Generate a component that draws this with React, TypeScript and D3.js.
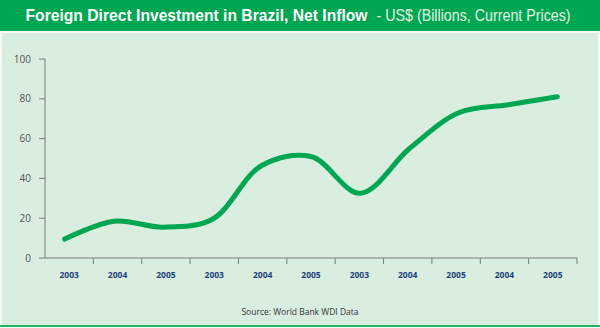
import React, { useLayoutEffect, useRef, useState } from "react";
import * as d3 from "d3";

const categories = ["2003", "2004", "2005", "2003", "2004", "2005", "2003", "2004", "2005", "2004", "2005"];
const values = [9.5, 18.5, 15.5, 19.5, 46.5, 51, 32.5, 55, 73, 77, 81];
const yTicks = [0, 20, 40, 60, 80, 100];
const titleMain = "Foreign Direct Investment in Brazil, Net Inflow";
const titleSub = "- US$ (Billions, Current Prices)";
const source = "Source: World Bank WDI Data";

export default function App() {
  const W = 600, H = 328;
  const x0 = 45, x1 = 577, yTop = 59, yBot = 258;
  const idx = categories.map((_, i) => String(i));
  const band = d3.scaleBand<string>().domain(idx).range([x0, x1]);
  const pt = d3.scalePoint<string>().domain(idx).range([x0, x1]).padding(0.4);
  const y = d3.scaleLinear().domain([0, 100]).range([yBot, yTop]);
  const line = d3.line<number>()
    .x((_, i) => pt(String(i)) as number)
    .y((d) => y(d))
    .curve(d3.curveCatmullRom.alpha(0.5));
  const bounds = [x0, ...idx.map((k) => (band(k) as number) + band.bandwidth())];
  const axisColor = "#7a7a7a";
  const tf = "'Liberation Sans', Arial, sans-serif";

  const mainRef = useRef<SVGTextElement>(null);
  const subRef = useRef<SVGTextElement>(null);
  const [sxMain, setSxMain] = useState(0.85);
  const [sxSub, setSxSub] = useState(0.85);
  useLayoutEffect(() => {
    if (mainRef.current) {
      const w = mainRef.current.getComputedTextLength();
      if (w > 0) setSxMain(342 / w);
    }
    if (subRef.current) {
      const w = subRef.current.getComputedTextLength();
      if (w > 0) setSxSub(194 / w);
    }
  }, []);

  return (
    <svg width={W} height={H} style={{ position: "absolute", left: 0, top: 0 }}>
      <rect x={0} y={0} width={W} height={H} fill="#f4faf5" />
      <rect x={2} y={33} width={W - 4} height={292} fill="#d9eedf" />
      <rect x={0} y={0} width={W} height={31} fill="#00a651" />
      <rect x={0} y={325} width={W} height={2} fill="#22b566" />
      <g transform={`translate(25.5,21) scale(${sxMain},1)`}>
        <text ref={mainRef} x={0} y={0} fontFamily={tf} fontSize={16.8} fontWeight="bold" fill="#ffffff">{titleMain}</text>
      </g>
      <g transform={`translate(376.5,21) scale(${sxSub},1)`}>
        <text ref={subRef} x={0} y={0} fontFamily={tf} fontSize={16.8} fill="#e3f4e6">{titleSub}</text>
      </g>
      <line x1={x0} x2={x0} y1={yTop} y2={yBot} stroke={axisColor} strokeWidth={1} />
      {yTicks.map((t) => (
        <g key={t}>
          <line x1={x0 - 6} x2={x0} y1={y(t)} y2={y(t)} stroke={axisColor} />
          <text x={31} y={y(t)} dy="0.35em" textAnchor="end" fontFamily="'Open Sans', sans-serif" fontSize={10} fill="#555">{t}</text>
        </g>
      ))}
      <line x1={x0} x2={x1} y1={yBot} y2={yBot} stroke={axisColor} />
      {bounds.slice(1).map((b, i) => (
        <line key={i} x1={b} x2={b} y1={yBot} y2={yBot + 6} stroke={axisColor} />
      ))}
      {categories.map((c, i) => (
        <text key={i} x={(band(String(i)) as number) + band.bandwidth() / 2} y={278} textAnchor="middle" fontFamily="'Open Sans', sans-serif" fontWeight="bold" fontSize={8.5} fill="#1d3f7c">{c}</text>
      ))}
      <path d={line(values) || ""} fill="none" stroke="#00a651" strokeWidth={5} strokeLinecap="round" />
      <text x={300} y={315} textAnchor="middle" fontFamily="'Open Sans', sans-serif" fontSize={8.5} fill="#333">{source}</text>
    </svg>
  );
}
